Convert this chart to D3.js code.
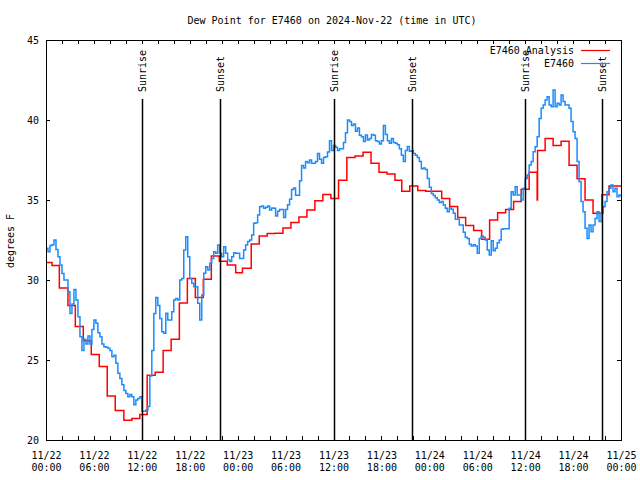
<!DOCTYPE html>
<html><head><meta charset="utf-8">
<script src="https://cdn.jsdelivr.net/npm/d3@7"></script>
<style>
body{margin:0;background:#fff}
svg text{font-family:"DejaVu Sans Mono",monospace;font-size:10px;fill:#000}
</style>
</head><body>
<svg id="c" width="640" height="480"></svg>
<script>
// ---------------- data ----------------
const titleText = "Dew Point for E7460 on 2024-Nov-22 (time in UTC)";
const yLabelText = "degrees F";
const seriesNames = ["E7460 Analysis", "E7460"];

// observations, one value every 15 minutes from 11/22 00:00 UTC
const blueStepHours = 0.25;
const blueValues = [
31.98,31.77,32.15,32.2, 32.5,31.9,31.45,30.94, 30.4,30.0,30.0,29.27, 27.9,28.5,29.4,28.75,
27.7,26.46,25.6,26.3, 26.0,26.5,26.0,26.9, 27.5,27.3,26.7,26.46, 26.0,25.83,25.8,25.73,
25.6,25.2,25.3,24.79, 24.17,23.85,23.45,23.1, 22.9,22.7,22.85,22.7, 22.2,22.5,22.6,22.7,
21.8,21.8,21.875,22.1, 24.0,25.6,27.9,28.9, 28.4,27.6,26.77,26.67, 27.92,27.5,27.5,28.02,
28.75,28.85,28.75,30.0, 30.1,31.875,32.71,31.46, 30.1,29.79,29.58,29.58, 28.54,27.5,29.06,30.42,
30.83,30.625,31.04,31.35, 31.77,31.67,32.19,31.67, 31.46,32.08,31.67,31.25, 31.15,31.46,31.71,31.67,
31.67,31.35,31.35,31.875, 32.19,32.4,32.5,32.81, 33.54,33.58,34.06,34.58, 34.625,34.48,34.54,34.625,
34.375,34.5,34.48,34.0, 34.3,34.4,34.4,33.9, 34.4,34.7,35.05,35.65, 35.75,35.3,35.3,36.2,
37.15,37.0,37.4,37.33, 37.5,37.3,37.3,37.4, 37.9,37.55,37.3,37.65, 37.7,38.0,38.7,38.1,
38.4,38.3,38.1,38.2, 38.2,38.6,39.2,40.0, 39.9,39.65,39.75,39.3, 39.5,39.05,38.95,38.65,
39.06,38.75,38.85,39.1, 39.05,38.7,38.65,38.5, 38.7,39.65,39.1,38.7, 38.55,38.85,38.6,38.55,
38.45,38.2,37.8,37.4, 38.1,38.35,38.05,38.08, 37.9,37.8,37.65,37.4, 36.95,37.0,36.9,36.35,
35.8,35.4,35.28,35.14, 35.0,34.85,34.9,34.69, 34.48,34.27,34.5,34.42, 34.17,33.79,33.79,33.44,
33.44,32.98,32.67,32.6, 32.23,32.125,32.2,32.125, 31.67,32.6,32.75,32.67, 32.5,31.875,31.56,32.46,
31.83,31.98,32.33,32.5, 33.17,33.2,33.2,33.2, 34.48,35.52,35.31,35.83, 35.31,35.31,35.0,35.73,
36.35,36.56,37.19,37.4, 38.02,38.33,38.96,40.1, 40.73,40.94,41.25,41.46, 40.94,40.83,41.875,40.83,
41.04,40.94,41.56,41.15, 40.94,40.94,40.73,39.9, 39.27,38.85,37.4,36.15, 34.9,34.27,33.23,32.6,
33.44,33.02,33.44,33.85, 34.27,33.65,34.17,34.58, 34.9,35.52,35.73,35.94, 35.52,35.73,35.21,35.31,
35.2
];

// analysis: hour (since 11/22 00:00 UTC) at which each value starts
const redStartHours = [
0,0.75,1.67,2.75,3.67,4.67,5.67,6.67,7.67,8.67,9.75,10.75,11.75,12.67,13.67,14.67,15.67,16.7,
17.7,18.7,19.7,20.7,21.7,22.7,23.75,24.6,25.7,26.7,27.7,28.7,29.67,30.67,31.67,32.67,33.67,
34.67,35.67,36.63,37.67,38.7,39.7,40.7,41.7,42.7,43.7,44.55,45.55,46.55,47.55,48.55,49.55,
50.55,51.55,52.55,53.55,54.55,55.55,56.55,57.55,58.55,59.5,60.5,61.5,61.55,62.5,63.5,64.5,
65.5,66.5,67.5,68.5,69.6,70.5
];
const redValues = [
31.1,30.9,29.5,28.4,27.1,26.2,25.35,24.6,22.75,21.85,21.23,21.35,21.6,24.05,24.23,25.6,26.3,28.56,
30.1,28.9,30.04,31.5,31.17,30.94,30.46,30.73,32.25,32.75,32.9,32.92,33.25,33.6,33.94,34.375,34.96,
35.35,35.1,36.23,37.65,37.75,37.98,37.29,36.73,36.63,36.23,35.54,35.875,35.6,35.54,35.54,35.1,
34.6,33.9,33.4,33.1,32.55,33.75,34.2,34.4,34.9,35.67,36.73,35.0,38.1,38.85,38.4,38.67,
37.17,36.33,35.0,34.17,35.33,35.875
];
const endHour = 72;

const eventHours  = [12.03, 21.8, 36.03, 45.8, 60.03, 69.68];
const eventLabels = ["Sunrise","Sunset","Sunrise","Sunset","Sunrise","Sunset"];

const yTicks = [20,25,30,35,40,45];
const xTickHours = [0,6,12,18,24,30,36,42,48,54,60,66,72];
const xTickLabels = [
["11/22","00:00"],["11/22","06:00"],["11/22","12:00"],["11/22","18:00"],
["11/23","00:00"],["11/23","06:00"],["11/23","12:00"],["11/23","18:00"],
["11/24","00:00"],["11/24","06:00"],["11/24","12:00"],["11/24","18:00"],
["11/25","00:00"]
];
const minorTickHours = d3.range(0, 73, 2);

const colors = {analysis:"#ff0000", obs:"#1a8cff"};

// ---------------- chart ----------------
const L=46, R=621, T=40, B=440;
const svg = d3.select("#c");
const x = d3.scaleLinear().domain([0,72]).range([L,R]);
const y = d3.scaleLinear().domain([20,45]).range([B,T]);

svg.append("defs").append("clipPath").attr("id","clip")
  .append("rect").attr("x",L).attr("y",T).attr("width",R-L+1).attr("height",B-T+1);

function styleAxis(g){
  g.attr("font-family",null).attr("font-size",null);
  g.select(".domain").remove();
  g.selectAll(".tick line").attr("stroke","#000").attr("shape-rendering","crispEdges");
}

svg.append("g").attr("transform",`translate(0,${B})`)
  .call(d3.axisBottom(x).tickValues(minorTickHours).tickSize(-4).tickSizeOuter(0).tickFormat(""))
  .call(styleAxis);
svg.append("g").attr("transform",`translate(0,${T})`)
  .call(d3.axisTop(x).tickValues(minorTickHours).tickSize(-4).tickSizeOuter(0).tickFormat(""))
  .call(styleAxis);

const xl = svg.append("g").attr("transform",`translate(0,${B})`)
  .call(d3.axisBottom(x).tickValues(xTickHours).tickSize(0).tickFormat(""))
  .call(styleAxis);
xl.selectAll(".tick text").remove();
xl.selectAll(".tick").each(function(d,i){
  const t = d3.select(this).append("text").attr("text-anchor","middle");
  t.append("tspan").attr("x",0).attr("y",18.5).text(xTickLabels[i][0]);
  t.append("tspan").attr("x",0).attr("y",30.5).text(xTickLabels[i][1]);
});

svg.append("g").attr("transform",`translate(${L},0)`)
  .call(d3.axisLeft(y).tickValues(yTicks).tickSize(-4).tickSizeOuter(0).tickPadding(7).tickFormat(d3.format("d")))
  .call(styleAxis);
svg.append("g").attr("transform",`translate(${R},0)`)
  .call(d3.axisRight(y).tickValues(yTicks).tickSize(-4).tickSizeOuter(0).tickFormat(""))
  .call(styleAxis);

const redPts = redStartHours.map((h,i)=>({h, v:redValues[i]}));
redPts.push({h:endHour, v:redValues[redValues.length-1]});
const bluePts = blueValues.map((v,i)=>({h:i*blueStepHours, v}));

const line = d3.line().x(d=>x(d.h)).y(d=>y(d.v)).curve(d3.curveStepAfter);
const plot = svg.append("g").attr("clip-path","url(#clip)");
plot.append("path").datum(redPts).attr("d",line)
  .attr("fill","none").attr("stroke",colors.analysis).attr("stroke-width",1.5);
plot.append("path").datum(bluePts).attr("d",line)
  .attr("fill","none").attr("stroke",colors.obs).attr("stroke-width",1.5);

svg.append("rect").attr("x",L+0.5).attr("y",T+0.5).attr("width",R-L).attr("height",B-T)
  .attr("fill","none").attr("stroke","#000").attr("stroke-width",1).attr("shape-rendering","crispEdges");

const ev = svg.append("g");
ev.selectAll("line").data(eventHours).join("line")
  .attr("x1",d=>Math.round(x(d))+0.5).attr("x2",d=>Math.round(x(d))+0.5)
  .attr("y1",99).attr("y2",B)
  .attr("stroke","#000").attr("stroke-width",1.5);
ev.selectAll("text").data(eventHours).join("text")
  .attr("transform",d=>`translate(${Math.round(x(d))+0.5},92) rotate(-90)`)
  .attr("text-anchor","start").attr("dominant-baseline","central")
  .text((d,i)=>eventLabels[i]);

svg.append("text").attr("x",332).attr("y",20).attr("text-anchor","middle")
  .attr("dominant-baseline","central").text(titleText);
svg.append("text").attr("transform","translate(10,241) rotate(-90)")
  .attr("text-anchor","middle").attr("dominant-baseline","central").text(yLabelText);

const leg = svg.append("g");
[[seriesNames[0],colors.analysis,50],[seriesNames[1],colors.obs,63]].forEach(([name,col,yy])=>{
  leg.append("text").attr("x",574).attr("y",yy).attr("text-anchor","end")
    .attr("dominant-baseline","central").text(name);
  leg.append("line").attr("x1",581).attr("x2",610).attr("y1",yy+0.5).attr("y2",yy+0.5)
    .attr("stroke",col).attr("stroke-width",1.2);
});
</script>
</body></html>
